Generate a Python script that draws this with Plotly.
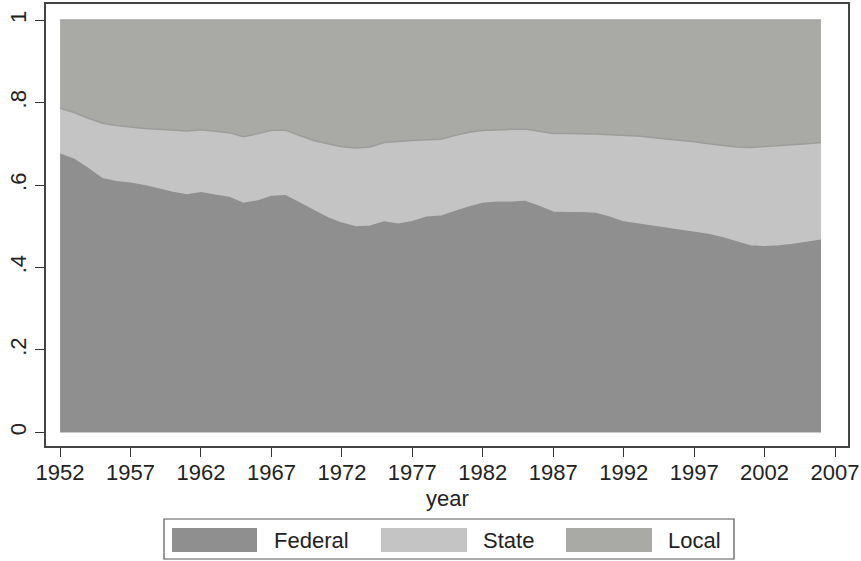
import plotly.graph_objects as go

years = list(range(1952, 2007))

federal = [0.675, 0.662, 0.640, 0.615, 0.608, 0.604, 0.598, 0.590, 0.582, 0.576,
           0.581, 0.575, 0.570, 0.555, 0.561, 0.572, 0.574, 0.556, 0.538, 0.520,
           0.507, 0.498, 0.500, 0.510, 0.505, 0.511, 0.522, 0.524, 0.535, 0.546,
           0.555, 0.558, 0.558, 0.560, 0.548, 0.534, 0.533, 0.533, 0.531, 0.522,
           0.510, 0.505, 0.500, 0.495, 0.490, 0.486, 0.480, 0.472, 0.462, 0.452,
           0.450, 0.452, 0.456, 0.461, 0.466]

state = [0.111, 0.114, 0.122, 0.135, 0.136, 0.136, 0.139, 0.145, 0.151, 0.155,
         0.153, 0.156, 0.157, 0.162, 0.163, 0.161, 0.159, 0.164, 0.170, 0.180,
         0.186, 0.192, 0.192, 0.193, 0.201, 0.197, 0.188, 0.187, 0.185, 0.182,
         0.177, 0.176, 0.177, 0.176, 0.182, 0.191, 0.192, 0.192, 0.193, 0.200,
         0.211, 0.214, 0.215, 0.217, 0.218, 0.219, 0.220, 0.224, 0.230, 0.239,
         0.243, 0.243, 0.241, 0.239, 0.237]

local = [0.214, 0.224, 0.238, 0.250, 0.256, 0.260, 0.263, 0.265, 0.267, 0.269,
         0.266, 0.269, 0.273, 0.283, 0.276, 0.267, 0.267, 0.280, 0.292, 0.300,
         0.307, 0.310, 0.308, 0.297, 0.294, 0.292, 0.290, 0.289, 0.280, 0.272,
         0.268, 0.266, 0.265, 0.264, 0.270, 0.275, 0.275, 0.275, 0.276, 0.278,
         0.279, 0.281, 0.285, 0.288, 0.292, 0.295, 0.300, 0.304, 0.308, 0.309,
         0.307, 0.305, 0.303, 0.300, 0.297]

x_ticks = list(range(1952, 2008, 5))
y_ticks = [0, 0.2, 0.4, 0.6, 0.8, 1.0]
y_tick_text = ["0", ".2", ".4", ".6", ".8", "1"]
legend_names = ["Federal", "State", "Local"]

fill_colors = ["#8f8f8f", "#c4c4c4", "#a9a9a5"]
line_colors = ["#8f8f8f", "#9c9c9a", "#a4a4a0"]

FONT = "Liberation Sans, Arial, Helvetica, sans-serif"
TXT = "#222222"
FS = 22

W, H = 861, 561
ML, MR, MT, MB = 46, 13, 4, 115
PW = W - ML - MR
PH = H - MT - MB


def px(x):
    return (x - ML) / PW


def py(y):
    return (H - MB - y) / PH


fig = go.Figure()
for name, vals, fc, lc in zip(legend_names, [federal, state, local], fill_colors, line_colors):
    fig.add_trace(go.Scatter(
        x=years, y=vals, name=name, mode="lines",
        stackgroup="one", fillcolor=fc,
        line=dict(color=lc, width=1.5),
        showlegend=False,
    ))

shapes = [dict(type="rect", xref="paper", yref="paper",
               x0=px(164), x1=px(734), y0=py(559), y1=py(519),
               line=dict(color="#555555", width=1.2), fillcolor="white", layer="above")]
annotations = []
sym_x = [(172, 257), (381, 467), (566, 652)]
txt_x = [272, 481, 666]
for name, fc, (a, b), tx in zip(legend_names, fill_colors, sym_x, txt_x):
    shapes.append(dict(type="rect", xref="paper", yref="paper",
                       x0=px(a), x1=px(b), y0=py(552), y1=py(528),
                       line=dict(width=0), fillcolor=fc, layer="above"))
    annotations.append(dict(text=name, xref="paper", yref="paper", x=px(tx), y=py(540),
                            xanchor="left", yanchor="middle", showarrow=False,
                            font=dict(size=FS, family=FONT, color=TXT)))

annotations.append(dict(text="year", xref="paper", yref="paper", x=px(447), y=py(498),
                        xanchor="center", yanchor="middle", showarrow=False,
                        font=dict(size=FS, family=FONT, color=TXT)))

fig.update_layout(
    width=W, height=H,
    margin=dict(l=ML, r=MR, t=MT, b=MB, autoexpand=False),
    paper_bgcolor="white", plot_bgcolor="white",
    font=dict(family=FONT, size=FS, color=TXT),
    showlegend=False,
    shapes=shapes, annotations=annotations,
    xaxis=dict(
        range=[1951.0, 2007.92], tickvals=x_ticks, ticks="outside", ticklen=9,
        tickwidth=1.2, tickcolor="#333", showline=True, linecolor="#444", linewidth=1.5,
        mirror=True, showgrid=False, zeroline=False, automargin=False,
        ticklabelstandoff=-3,
        tickfont=dict(size=FS, family=FONT, color=TXT),
    ),
    yaxis=dict(
        range=[-0.033, 1.039], tickvals=y_ticks, ticktext=y_tick_text, ticks="outside",
        ticklen=9, tickwidth=1.2, tickcolor="#333", showline=True, linecolor="#444",
        linewidth=1.5, mirror=True, showgrid=False, zeroline=False, tickangle=-90,
        automargin=False,
        tickfont=dict(size=FS, family=FONT, color=TXT),
    ),
)

fig.write_html(
    "out.html",
    config={"displayModeBar": False},
    post_script="document.body.style.margin='0';document.body.style.overflow='hidden';",
)
